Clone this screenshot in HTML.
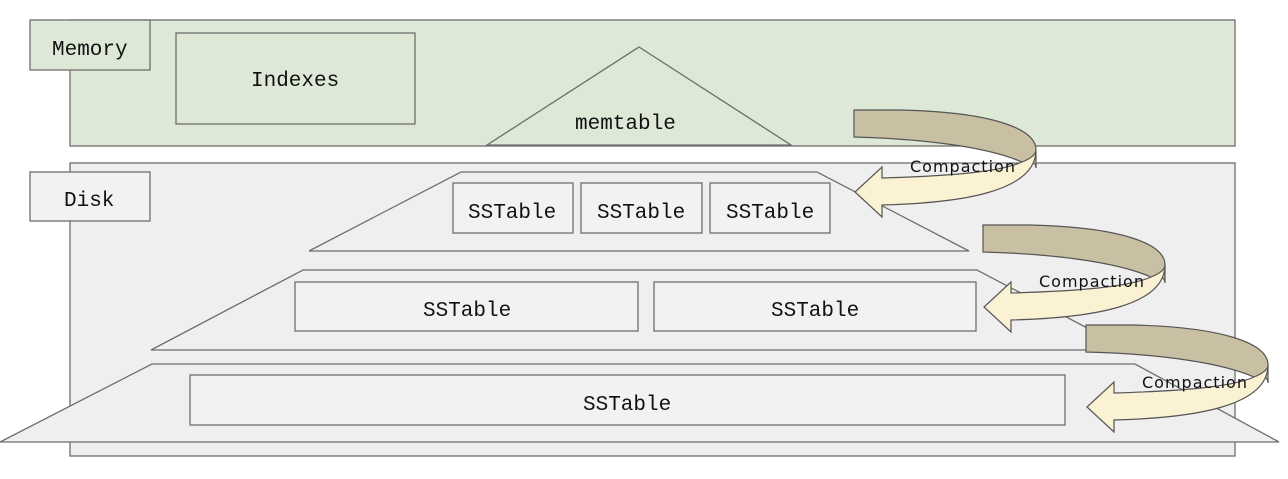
<!DOCTYPE html>
<html><head><meta charset="utf-8"><style>
html,body{margin:0;padding:0;background:#fff;width:1288px;height:479px;overflow:hidden}
svg text{font-family:"Liberation Mono","DejaVu Sans Mono",monospace;font-size:21px;fill:#111}
.c{font-family:"DejaVu Sans","Liberation Sans",sans-serif;font-size:16px;letter-spacing:1px}
</style></head><body>
<svg width="1288" height="479" xmlns="http://www.w3.org/2000/svg">
<g stroke="#6e6e6e" stroke-width="1.3">
<rect x="70" y="20" width="1165" height="126" fill="#dde8d6"/>
<rect x="30" y="20" width="120" height="50" fill="#dde8d6"/>
<rect x="176" y="33" width="239" height="91" fill="#dde8d6"/>
<polygon points="487,145 639,47 791,145" fill="#dde8d6"/>
<rect x="70" y="163" width="1165" height="293" fill="#efefef"/>
<rect x="30" y="172" width="120" height="49" fill="#f2f2f2"/>
<polygon points="309,251 461,172 817,172 969,251" fill="#efefef"/>
<rect x="453" y="183" width="120" height="50" fill="#f2f2f2"/>
<rect x="581" y="183" width="121" height="50" fill="#f2f2f2"/>
<rect x="710" y="183" width="120" height="50" fill="#f2f2f2"/>
<polygon points="151,350 303,270 977,270 1129,350" fill="#efefef"/>
<rect x="295" y="282" width="343" height="49" fill="#f2f2f2"/>
<rect x="654" y="282" width="322" height="49" fill="#f2f2f2"/>
<polygon points="0,442 152,364 1135,364 1279,442" fill="#efefef"/>
<rect x="190" y="375" width="875" height="50" fill="#f2f2f2"/>
</g>
<text x="52" y="55">Memory</text>
<text x="251" y="86">Indexes</text>
<text x="575" y="129">memtable</text>
<text x="64" y="206">Disk</text>
<text x="468" y="218">SSTable</text>
<text x="597" y="218">SSTable</text>
<text x="726" y="218">SSTable</text>
<text x="423" y="316">SSTable</text>
<text x="771" y="316">SSTable</text>
<text x="583" y="410">SSTable</text>
<defs>
<g id="arr">
<path d="M854,110 L900,110 C990,112 1036,128 1036,150 L1036,168 C1036,162 1030,160 1022,162 C990,148 930,139 854,137 Z" fill="#c9c0a4" stroke="#555" stroke-width="1.2"/>
<path d="M1036,150 C1036,192 960,203 882,205 L882,217 L855,192 L882,167 L882,178 C950,176 1000,172 1022,162 C1032,158 1036,154 1036,150 Z" fill="#fbf1d3" stroke="#555" stroke-width="1.2"/>
</g>
</defs>
<use href="#arr"/>
<use href="#arr" transform="translate(129,115)"/>
<use href="#arr" transform="translate(232,215)"/>
<text class="c" x="910" y="172">Compaction</text>
<text class="c" x="1039" y="287">Compaction</text>
<text class="c" x="1142" y="388">Compaction</text>
</svg>
</body></html>
